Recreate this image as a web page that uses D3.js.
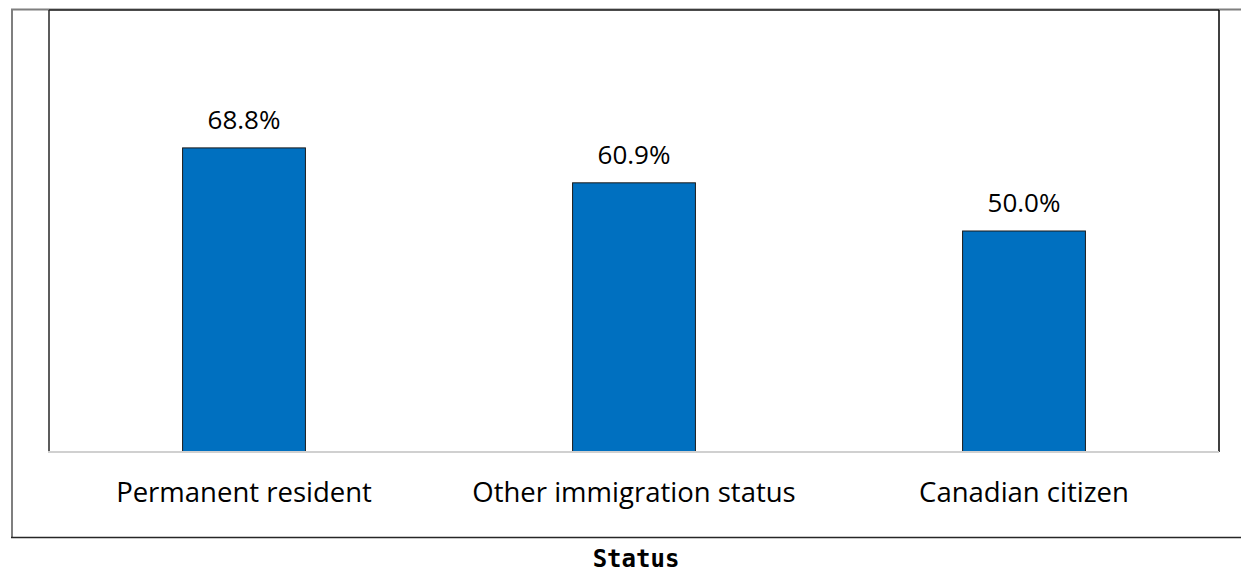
<!DOCTYPE html>
<html>
<head>
<meta charset="utf-8">
<script src="https://cdn.jsdelivr.net/npm/d3@7"></script>
<style>
  html, body { margin: 0; padding: 0; background: #fff; }
  svg { display: block; }
</style>
</head>
<body>
<svg id="chart" width="1241" height="573"></svg>
<script>
// Share by immigration status
const categories = ["Permanent resident", "Other immigration status", "Canadian citizen"];
const values = [68.8, 60.9, 50.0];
const axisTitle = "Status";

const W = 1241, H = 573;
const plot = { left: 49, right: 1219, top: 10, bottom: 452 };

const svg = d3.select("#chart");

const x = d3.scaleBand()
  .domain(categories)
  .range([plot.left, plot.right])
  .paddingInner(0.685)
  .paddingOuter(0.3425);

const y = d3.scaleLinear()
  .domain([0, 100])
  .range([plot.bottom, plot.top]);

// Outer frame: gray top and left edges, dark bottom edge
svg.append("line")
  .attr("x1", 11).attr("x2", W).attr("y1", 9.5).attr("y2", 9.5)
  .attr("stroke", "#7f7f7f").attr("stroke-width", 2);
svg.append("line")
  .attr("x1", 12).attr("x2", 12).attr("y1", 9).attr("y2", 537)
  .attr("stroke", "#7f7f7f").attr("stroke-width", 2);
svg.append("line")
  .attr("x1", 11).attr("x2", W).attr("y1", 537.5).attr("y2", 537.5)
  .attr("stroke", "#262626").attr("stroke-width", 1.5);

// Plot area border
svg.append("line")
  .attr("x1", plot.left).attr("x2", plot.right).attr("y1", 10).attr("y2", 10)
  .attr("stroke", "#262626").attr("stroke-width", 1.5);
svg.append("line")
  .attr("x1", plot.left).attr("x2", plot.left).attr("y1", 10).attr("y2", plot.bottom)
  .attr("stroke", "#262626").attr("stroke-width", 1.5);
svg.append("line")
  .attr("x1", plot.right).attr("x2", plot.right).attr("y1", 10).attr("y2", plot.bottom)
  .attr("stroke", "#000").attr("stroke-width", 1.5);

// Bars
svg.append("g")
  .selectAll("rect")
  .data(values)
  .join("rect")
  .attr("x", (d, i) => x(categories[i]))
  .attr("width", x.bandwidth())
  .attr("y", d => y(d))
  .attr("height", d => y(0) - y(d))
  .attr("fill", "#0070c0")
  .attr("stroke", "#1a1a1a")
  .attr("stroke-width", 1);

// Baseline axis
const xAxis = svg.append("g")
  .attr("transform", `translate(0,${plot.bottom})`)
  .call(d3.axisBottom(x).tickSize(0).tickPadding(50));
xAxis.select(".domain").attr("stroke", "#d0d0d0").attr("stroke-width", 2)
  .attr("d", `M${plot.left - 1},0H${plot.right}`);
xAxis.selectAll(".tick text")
  .attr("font-family", "'Open Sans', sans-serif")
  .attr("font-size", 27.5)
  .attr("fill", "#000")
  .attr("dy", 0);

// Value labels
svg.append("g")
  .selectAll("text")
  .data(values)
  .join("text")
  .attr("x", (d, i) => x(categories[i]) + x.bandwidth() / 2)
  .attr("y", d => y(d) - 19)
  .attr("text-anchor", "middle")
  .attr("font-family", "'Open Sans', sans-serif")
  .attr("font-size", 26)
  .attr("fill", "#000")
  .text(d => d.toFixed(1) + "%");

// Axis title
svg.append("text")
  .attr("x", 636)
  .attr("y", 567)
  .attr("text-anchor", "middle")
  .attr("font-family", "'DejaVu Sans Mono', monospace")
  .attr("font-weight", "bold")
  .attr("font-size", 24)
  .attr("fill", "#000")
  .text(axisTitle);
</script>
</body>
</html>
